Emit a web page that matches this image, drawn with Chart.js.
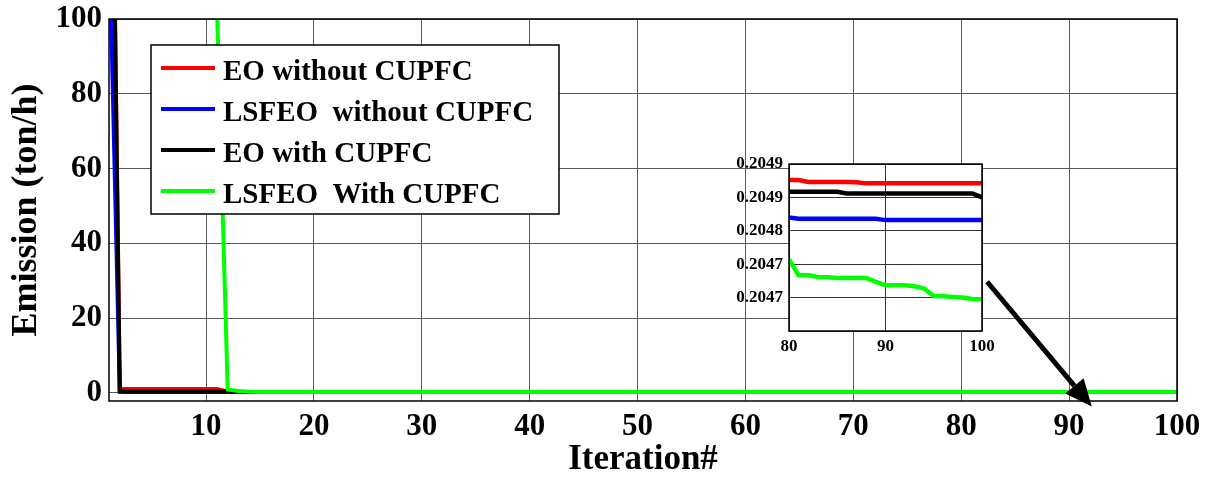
<!DOCTYPE html>
<html>
<head>
<meta charset="UTF-8">
<title>emissionChart</title>
<script src="https://cdn.jsdelivr.net/npm/chart.js"></script>
<style>
  body { margin: 0; background: #fff; }
  #wrap { position: relative; width: 1213px; height: 478px; }
  #mainChart { position: absolute; left: 0; top: 0; }
  #insetChart { position: absolute; left: 720px; top: 150px; }
</style>
</head>
<body>
<div id="wrap">
  <canvas id="mainChart" width="1213" height="478"></canvas>
  <canvas id="insetChart" width="280" height="215"></canvas>
</div>
<script>
// series labels / colours
var seriesNames = ['EO without CUPFC', 'LSFEO  without CUPFC', 'EO with CUPFC', 'LSFEO  With CUPFC'];
var seriesColors = ['#ff0000', '#0000ff', '#000000', '#00ff00'];

// main axis ticks
var xTicks = [10, 20, 30, 40, 50, 60, 70, 80, 90, 100];
var yTicks = [0, 20, 40, 60, 80, 100];

// early iterations
var redIterEarly = [1, 2, 11, 12, 13];
var redEarly = [230, 1.0, 1.0, 0.3, 0.2049];
var blueIterEarly = [1, 2, 3];
var blueEarly = [125, 0.25, 0.2049];
var blackIterEarly = [1, 2, 12, 13];
var blackEarly = [222, 0.35, 0.35, 0.2049];
var greenIterEarly = [1, 11, 12, 13, 14, 15];
var greenEarly = [180, 104, 0.9, 0.5, 0.25, 0.2048];

// last iterations
var insetIter = [80, 81, 82, 83, 84, 85, 86, 87, 88, 89, 90, 91, 92, 93, 94, 95, 96, 97, 98, 99, 100];
var redInset = [0.204876, 0.204876, 0.204873, 0.204873, 0.204873, 0.204873, 0.204873, 0.2048725, 0.204871, 0.204871, 0.204871,
  0.204871, 0.204871, 0.204871, 0.204871, 0.204871, 0.204871, 0.204871, 0.204871, 0.204871, 0.204871];
var blueInset = [0.20482, 0.204818, 0.204818, 0.204818, 0.204818, 0.204818, 0.204818, 0.204818, 0.204818, 0.204818, 0.204816,
  0.204816, 0.204816, 0.204816, 0.204816, 0.204816, 0.204816, 0.204816, 0.204816, 0.204816, 0.204816];
var blackInset = [0.2048585, 0.2048585, 0.2048585, 0.2048585, 0.2048585, 0.2048585, 0.204856, 0.204856, 0.204856, 0.204856, 0.204856,
  0.204856, 0.204856, 0.204856, 0.204856, 0.204856, 0.204856, 0.204856, 0.204856, 0.204856, 0.20485];
var greenInset = [0.204757, 0.2047335, 0.2047335, 0.204731, 0.2047305, 0.2047295, 0.2047295, 0.2047295, 0.2047295, 0.2047235, 0.2047185,
  0.2047185, 0.2047185, 0.204717, 0.2047135, 0.2047025, 0.204702, 0.204701, 0.2047, 0.204698, 0.2046975];

var insetXTicks = [80, 90, 100];
var insetYTicks = [0.20465, 0.20470, 0.20475, 0.20480, 0.20485, 0.20490];
var insetYLabels = ['', '0.2047', '0.2047', '0.2048', '0.2049', '0.2049'];

var serif = "'Liberation Serif', 'Times New Roman', serif";

function pts(xs, ys) {
    return xs.map(function (x, i) { return { x: x, y: ys[i] }; });
}

function makeSets(groups, width) {
    // drawing order like matlab: red first, green on top
    return groups.map(function (g, i) {
        return {
            label: seriesNames[i],
            data: g,
            borderColor: seriesColors[i],
            backgroundColor: seriesColors[i],
            borderWidth: width,
            pointRadius: 0,
            tension: 0,
            fill: false,
            clip: 0,
            order: 3 - i
        };
    });
}

var mainSets = makeSets([
    pts(redIterEarly.concat(insetIter), redEarly.concat(redInset)),
    pts(blueIterEarly.concat(insetIter), blueEarly.concat(blueInset)),
    pts(blackIterEarly.concat(insetIter), blackEarly.concat(blackInset)),
    pts(greenIterEarly.concat(insetIter), greenEarly.concat(greenInset))
], 4);

var insetSets = makeSets([
    pts(insetIter, redInset),
    pts(insetIter, blueInset),
    pts(insetIter, blackInset),
    pts(insetIter, greenInset)
], 4.5);

// fixed axis sizes, no extra label overflow padding
function fixX(h) {
    return function (s) { s.height = h; s.paddingLeft = 0; s.paddingRight = 0; };
}
function fixY(w) {
    return function (s) { s.width = w; s.paddingTop = 0; s.paddingBottom = 0; };
}

var framePlugin = {
    id: 'frame',
    afterDatasetsDraw: function (chart) {
        var a = chart.chartArea, ctx = chart.ctx;
        ctx.save();
        ctx.strokeStyle = '#000';
        ctx.lineWidth = 1.5;
        ctx.strokeRect(a.left, a.top, a.right - a.left, a.bottom - a.top);
        ctx.restore();
    }
};

var whiteBg = {
    id: 'whiteBg',
    beforeDraw: function (chart) {
        var a = chart.chartArea, ctx = chart.ctx;
        ctx.save();
        ctx.fillStyle = '#fff';
        ctx.fillRect(a.left, a.top, a.right - a.left, a.bottom - a.top);
        ctx.restore();
    }
};

var legendPlugin = {
    id: 'boxLegend',
    afterDraw: function (chart) {
        var ctx = chart.ctx;
        ctx.save();
        ctx.fillStyle = '#fff';
        ctx.fillRect(151, 45, 408, 169);
        ctx.strokeStyle = '#000';
        ctx.lineWidth = 1.5;
        ctx.strokeRect(151, 45, 408, 169);
        ctx.font = 'bold 29px ' + serif;
        ctx.textBaseline = 'alphabetic';
        for (var i = 0; i < seriesNames.length; i++) {
            var y = 68 + i * 41;
            ctx.strokeStyle = seriesColors[i];
            ctx.lineWidth = 4;
            ctx.beginPath();
            ctx.moveTo(161, y);
            ctx.lineTo(215, y);
            ctx.stroke();
            ctx.fillStyle = '#000';
            ctx.fillText(seriesNames[i], 223, y + 12);
        }
        ctx.restore();
    }
};

var arrowPlugin = {
    id: 'arrow',
    afterDraw: function (chart) {
        var sx = chart.scales.x, sy = chart.scales.y, ctx = chart.ctx;
        var x0 = sx.getPixelForValue(82.4), y0 = sy.getPixelForValue(29.7);
        var x1 = sx.getPixelForValue(92.1), y1 = sy.getPixelForValue(-3.7);
        var ang = Math.atan2(y1 - y0, x1 - x0);
        var hl = 27, hw = 12;
        var bx = x1 - hl * Math.cos(ang), by = y1 - hl * Math.sin(ang);
        ctx.save();
        ctx.strokeStyle = '#000';
        ctx.fillStyle = '#000';
        ctx.lineWidth = 5;
        ctx.beginPath();
        ctx.moveTo(x0, y0);
        ctx.lineTo(bx, by);
        ctx.stroke();
        ctx.beginPath();
        ctx.moveTo(x1, y1);
        ctx.lineTo(bx + hw * Math.sin(ang), by - hw * Math.cos(ang));
        ctx.lineTo(bx - hw * Math.sin(ang), by + hw * Math.cos(ang));
        ctx.closePath();
        ctx.fill();
        ctx.restore();
    }
};

new Chart(document.getElementById('mainChart').getContext('2d'), {
    type: 'line',
    data: { datasets: mainSets },
    plugins: [framePlugin, legendPlugin, arrowPlugin],
    options: {
        responsive: false,
        animation: false,
        layout: { padding: { left: 0, right: 36, top: 19, bottom: 0 } },
        plugins: { legend: { display: false }, tooltip: { enabled: false } },
        scales: {
            x: {
                type: 'linear', min: 1, max: 100,
                afterBuildTicks: function (s) { s.ticks = xTicks.map(function (v) { return { value: v }; }); },
                afterFit: fixX(77),
                grid: { color: '#5a5a5a', lineWidth: 1, drawTicks: false },
                border: { display: false },
                ticks: { color: '#000', padding: 7, maxRotation: 0, autoSkip: false,
                    font: { family: serif, size: 31, weight: 'bold', lineHeight: 1.2 } },
                title: { display: true, text: 'Iteration#', color: '#000', padding: { top: 0, bottom: 0.5 },
                    font: { family: serif, size: 35, weight: 'bold', lineHeight: 1 } }
            },
            y: {
                min: -2.2, max: 100,
                afterBuildTicks: function (s) { s.ticks = yTicks.map(function (v) { return { value: v }; }); },
                afterFit: fixY(109),
                grid: { color: '#5a5a5a', lineWidth: 1, drawTicks: false },
                border: { display: false },
                ticks: { color: '#000', padding: 7,
                    font: { family: serif, size: 31, weight: 'bold', lineHeight: 1 } },
                title: { display: true, text: 'Emission (ton/h)', color: '#000', padding: { top: 9, bottom: 0 },
                    font: { family: serif, size: 36, weight: 'bold', lineHeight: 1 } }
            }
        }
    }
});

new Chart(document.getElementById('insetChart').getContext('2d'), {
    type: 'line',
    data: { datasets: insetSets },
    plugins: [whiteBg, framePlugin],
    options: {
        responsive: false,
        animation: false,
        layout: { padding: { left: 0, right: 18, top: 14, bottom: 0 } },
        plugins: { legend: { display: false }, tooltip: { enabled: false } },
        scales: {
            x: {
                type: 'linear', min: 80, max: 100,
                afterBuildTicks: function (s) { s.ticks = insetXTicks.map(function (v) { return { value: v }; }); },
                afterFit: fixX(34),
                grid: { color: '#333', lineWidth: 1, drawTicks: false },
                border: { display: false },
                ticks: { color: '#000', padding: 5, maxRotation: 0, autoSkip: false,
                    font: { family: serif, size: 17, weight: 'bold', lineHeight: 1.2 } }
            },
            y: {
                min: 0.20465, max: 0.20490,
                afterBuildTicks: function (s) { s.ticks = insetYTicks.map(function (v) { return { value: v }; }); },
                afterFit: fixY(69),
                grid: { color: '#333', lineWidth: 1, drawTicks: false },
                border: { display: false },
                ticks: { color: '#000', padding: 6,
                    callback: function (v, i) { return insetYLabels[i]; },
                    font: { family: serif, size: 17, weight: 'bold', lineHeight: 1 } }
            }
        }
    }
});
</script>
</body>
</html>
